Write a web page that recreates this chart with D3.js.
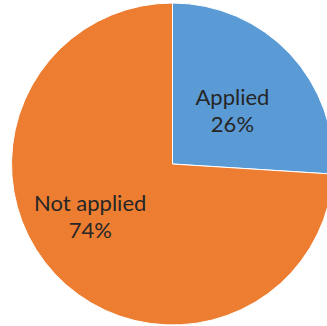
<!DOCTYPE html>
<html>
<head>
<meta charset="utf-8">
<script src="https://cdn.jsdelivr.net/npm/d3@7"></script>
<style>
  html, body { margin: 0; padding: 0; background: #fff; }
  svg { display: block; }
</style>
</head>
<body>
<svg id="chart" width="327" height="326"></svg>
<script>
// slice data
const categories = ['Applied', 'Not applied'];
const values = [26, 74];
const colors = ['#5B9BD5', '#ED7D31'];

const svg = d3.select('#chart');
const cx = 172.5, cy = 164, radius = 161;

const g = svg.append('g')
    .attr('transform', `translate(${cx},${cy})`);

const pie = d3.pie().sort(null).value(d => d.value);
const arcs = pie(categories.map((c, i) => ({ name: c, value: values[i], color: colors[i] })));

const arc = d3.arc().innerRadius(0).outerRadius(radius);

g.selectAll('path.slice')
    .data(arcs)
    .enter().append('path')
    .attr('class', 'slice')
    .attr('d', arc)
    .attr('fill', d => d.data.color)
    .attr('stroke', '#fff')
    .attr('stroke-width', 1);

// label placement (excel "best fit" puts them a bit off centroid)
const labelRadius = [80, 98];
const labelAngleShift = [0.03, 0.18];

const labels = g.selectAll('g.label')
    .data(arcs)
    .enter().append('g')
    .attr('class', 'label')
    .attr('transform', (d, i) => {
      const a = (d.startAngle + d.endAngle) / 2 + labelAngleShift[i];
      const x = Math.sin(a) * labelRadius[i];
      const y = -Math.cos(a) * labelRadius[i];
      return `translate(${x},${y})`;
    });

labels.append('text')
    .attr('text-anchor', 'middle')
    .attr('y', -6)
    .attr('font-family', 'Lato, "Open Sans", sans-serif')
    .attr('font-size', 22)
    .attr('fill', '#262626')
    .text(d => d.data.name);

labels.append('text')
    .attr('text-anchor', 'middle')
    .attr('y', 21)
    .attr('font-family', 'Lato, "Open Sans", sans-serif')
    .attr('font-size', 22)
    .attr('fill', '#262626')
    .text(d => d.data.value + '%');
</script>
</body>
</html>
